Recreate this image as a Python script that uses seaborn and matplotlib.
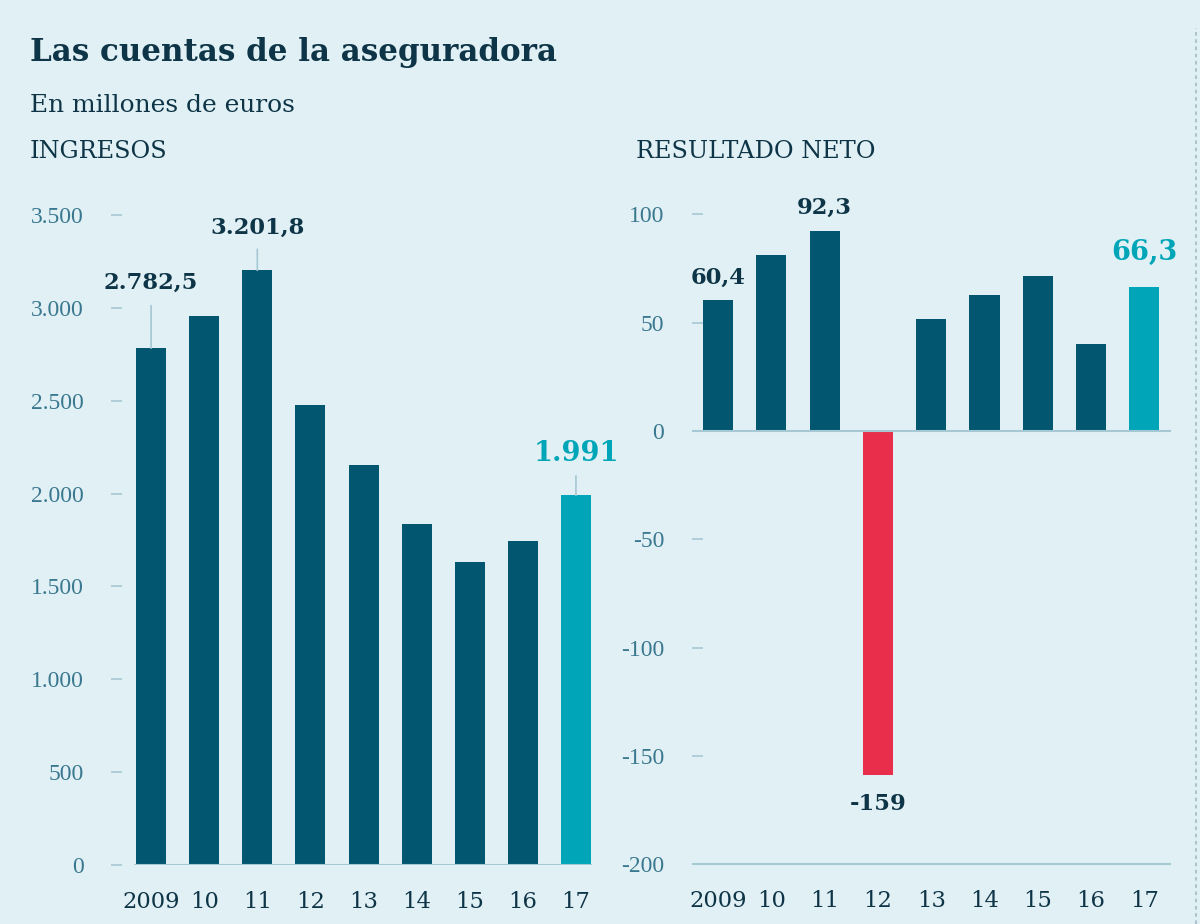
import numpy as np
import pandas as pd
import seaborn as sns
import matplotlib.pyplot as plt
from matplotlib.lines import Line2D


# chart data
years = ['2009', '10', '11', '12', '13', '14', '15', '16', '17']
ingresos = [2782.5, 2955, 3201.8, 2477, 2154, 1836, 1632, 1745, 1991]
resultado = [60.4, 81.5, 92.3, -159, 51.9, 63, 71.8, 40.3, 66.3]
ingresos_ticks = [0, 500, 1000, 1500, 2000, 2500, 3000, 3500]
ingresos_ticklabels = ['0', '500', '1.000', '1.500', '2.000', '2.500', '3.000', '3.500']
resultado_ticks = [-200, -150, -100, -50, 0, 50, 100]
resultado_ticklabels = ['-200', '-150', '-100', '-50', '0', '50', '100']
# labelled bars: index -> text
ingresos_labels = {0: '2.782,5', 2: '3.201,8', 8: '1.991'}
resultado_labels = {0: '60,4', 2: '92,3', 3: '-159', 8: '66,3'}

# colours
BG = '#e1f0f4'
DARK = '#02566f'
TEAL = '#00a6b8'
RED = '#e82e4a'
NAVY = '#0e3547'
TICKC = '#3a7890'
LINEC = '#a5c8d4'

sns.set_theme(style='white')
plt.rcParams['font.family'] = ['DejaVu Serif']
THIN = ['Liberation Serif', 'DejaVu Serif']

W, H = 1200, 924
fig = plt.figure(figsize=(W / 100, H / 100), dpi=100, facecolor=BG)


def px_axes(left, right, bottom, top):
    return fig.add_axes([left / W, 1 - bottom / H, (right - left) / W, (bottom - top) / H])


def bar_colors(values, last_color):
    cols = []
    for i, v in enumerate(values):
        if i == len(values) - 1:
            cols.append(last_color)
        elif v < 0:
            cols.append(RED)
        else:
            cols.append(DARK)
    return cols


def draw_panel(ax, values, ticks, ticklabels, ylim, xlim, dash, labels, offsets):
    df = pd.DataFrame({'year': years, 'value': values})
    sns.barplot(data=df, x='year', y='value', hue='year', order=years,
                palette=bar_colors(values, TEAL), legend=False, saturation=1,
                width=0.565, linewidth=0, ax=ax)
    ax.set_facecolor(BG)
    ax.set_xlim(*xlim)
    ax.set_ylim(*ylim)
    for s in ax.spines.values():
        s.set_visible(False)
    ax.set_xlabel('')
    ax.set_ylabel('')
    ax.set_yticks(ticks)
    ax.set_yticklabels(ticklabels, color=TICKC, fontsize=17, family=THIN)
    ax.tick_params(axis='y', length=0)
    ax.tick_params(axis='x', length=11, width=1, color=LINEC, pad=8,
                   labelsize=16.3, labelcolor=NAVY)
    # small dashes instead of y tick marks
    ax.hlines(ticks, dash[0], dash[1], color=LINEC, lw=1.2, clip_on=False)
    for i, txt in labels.items():
        v = values[i]
        dy, lead = offsets[i]
        last = i == len(values) - 1
        kw = dict(xy=(i, v), xytext=(0, dy), textcoords='offset points',
                  ha='center', va='center', fontweight='bold',
                  fontsize=19.5 if last else 16.3, color=TEAL if last else NAVY)
        if lead is not None:
            kw['arrowprops'] = dict(arrowstyle='-', color=LINEC, lw=1.2,
                                    shrinkA=lead, shrinkB=0)
        ax.annotate(txt, **kw)


# ingresos panel
ax1 = px_axes(98, 594, 865, 170)
draw_panel(ax1, ingresos, ingresos_ticks, ingresos_ticklabels,
           (0, 3500 * 695 / 650), (-1.0, 8.34), (-0.75, -0.55),
           ingresos_labels, {0: (47, 6), 2: (31, 5.5), 8: (30, 4)})
ax1.tick_params(axis='y', pad=10)
ax1.hlines(0, -0.32, 8.3, color=LINEC, lw=1.5)

# resultado panel
ax2 = px_axes(692, 1171, 864, 170)
draw_panel(ax2, resultado, resultado_ticks, resultado_ticklabels,
           (-200, -200 + 694 / 2.165), (-0.49, 8.5), (-0.49, -0.28),
           resultado_labels, {0: (16, None), 2: (16.5, None), 3: (-21, None), 8: (25, None)})
ax2.tick_params(axis='y', pad=20)
ax2.hlines([0, -200], -0.49, 8.5, color=LINEC, lw=1.5, clip_on=False)

# titles
fig.text(30 / W, 1 - 53 / H, 'Las cuentas de la aseguradora', fontsize=22.3,
         fontweight='bold', color=NAVY, va='center')
fig.text(30 / W, 1 - 106 / H, 'En millones de euros', fontsize=17.9,
         color=NAVY, va='center')
fig.text(30 / W, 1 - 152 / H, 'INGRESOS', fontsize=17.3, color=NAVY, va='center')
fig.text(636 / W, 1 - 152 / H, 'RESULTADO NETO', fontsize=17.3, color=NAVY, va='center')

# dotted edge line
fig.add_artist(Line2D([1196 / W, 1196 / W], [0, 1 - 28 / H], color='#a9bec7',
                      lw=1.3, ls=(0, (2, 2)), transform=fig.transFigure))

fig.savefig('out.png', dpi=100, facecolor=BG)
